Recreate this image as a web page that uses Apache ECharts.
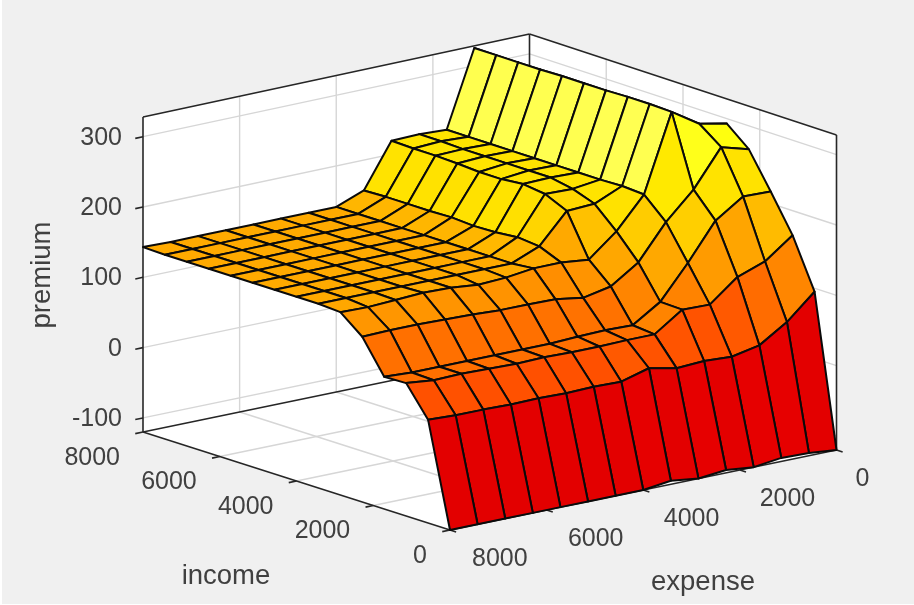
<!DOCTYPE html>
<html>
<head>
<meta charset="utf-8">
<title>premium surface</title>
<style>
  html, body { margin: 0; padding: 0; background: #fff; }
  /* reference is an upscaled screenshot, so a touch soft, with a thin white strip left and below */
  #chart { width: 912px; height: 604px; margin-left: 2px; filter: blur(0.6px); }
</style>
<script src="https://cdn.jsdelivr.net/npm/echarts@6/dist/echarts.min.js"></script>
</head>
<body>
<div id="chart"></div>
<script>
// grid of the surface: both axes run 0..8000 in 14 steps
const gridSteps = 14;
const axisMax = 8000;

// premium, one row per income step, expense step going up left to right
const income0 = [-120, -116, -115, -120, -116, -120, -115, -120, -120, -120, -120, -120, -120, -120, -120];
const income1 = [95, 60, 35, 27, 29, 27, 35, 24, 25, 24, 25, 24, 25, 25, 27];
const income2 = [165, 136, 122, 91, 92, 65, 65, 64, 64, 65, 64, 65, 66, 65, 69];
const income3 = [217, 218, 192, 140, 93, 68, 69, 68, 66, 66, 66, 66, 66, 66, 68];
const income4 = [267, 278, 226, 188, 139, 113, 105, 111, 112, 112, 114, 115, 116, 116, 115];
const income5 = [293, 301, 326, 217, 173, 141, 145, 145, 140, 138, 142, 143, 141, 139, 140];
const income6 = [280, 290, 327, 219, 202, 200, 158, 142, 142, 142, 142, 142, 142, 142, 142];
const income7 = [280, 285, 327, 218, 213, 214, 161, 142, 142, 142, 142, 142, 142, 142, 142];
const income8 = [280, 280, 326, 218, 219, 218, 158, 142, 142, 142, 142, 142, 142, 142, 142];
const income9 = [280, 280, 326, 218, 219, 215, 157, 142, 142, 142, 142, 142, 142, 142, 142];
const income10 = [280, 280, 326, 218, 219, 215, 159, 142, 142, 142, 142, 142, 142, 142, 142];
const income11 = [280, 280, 325, 218, 219, 217, 158, 142, 142, 142, 142, 142, 142, 142, 142];
const income12 = [280, 280, 325, 218, 219, 218, 158, 142, 142, 142, 142, 142, 142, 142, 142];
const income13 = [280, 280, 325, 218, 220, 218, 158, 142, 142, 142, 142, 142, 142, 142, 142];
const income14 = [280, 280, 325, 218, 220, 219, 157, 142, 142, 142, 142, 142, 142, 142, 143];
const premium = [income0, income1, income2, income3, income4, income5, income6, income7,
  income8, income9, income10, income11, income12, income13, income14];

const expenseTicks = [0, 2000, 4000, 6000, 8000];
const incomeTicks = [0, 2000, 4000, 6000, 8000];
const premiumTicks = [-100, 0, 100, 200, 300];
const premiumMin = -120;
const premiumMax = 328;

// view of the box, worked out from where its corners land.
// Last term is the slight perspective that lifts the far top corner a few pixels
function project(e, i, z) {
  const height = (z - premiumMin) / (premiumMax - premiumMin);
  return [
    836.5 - e * 386.5 / axisMax - i * 307 / axisMax,
    450 + e * 80 / axisMax - i * 98 / axisMax - height * 315
      - 3 * height * (i / axisMax) * (1 - e / axisMax)
  ];
}

// MATLAB hot colormap, caxis wider than the data
function hot(z) {
  const t = (z + 420) / 900;
  const r = Math.min(1, t / 0.375);
  const g = Math.max(0, Math.min(1, (t - 0.375) / 0.375));
  const b = Math.max(0, Math.min(1, (t - 0.75) / 0.25));
  return 'rgb(' + [r, g, b].map(v => Math.round(v * 255)).join(',') + ')';
}

const step = axisMax / gridSteps;

// faces back to front so the nearer ones paint over
const faces = [];
for (let j = gridSteps - 1; j >= 0; j--) {
  for (let k = 0; k < gridSteps; k++) {
    faces.push([k, j]);
  }
}

// back walls and floor
const walls = [
  [[0, axisMax, premiumMin], [axisMax, axisMax, premiumMin], [axisMax, axisMax, premiumMax], [0, axisMax, premiumMax]],
  [[0, 0, premiumMin], [0, axisMax, premiumMin], [0, axisMax, premiumMax], [0, 0, premiumMax]],
  [[0, 0, premiumMin], [axisMax, 0, premiumMin], [axisMax, axisMax, premiumMin], [0, axisMax, premiumMin]]
];

// segments are [e1, i1, z1, e2, i2, z2]
const gridLines = [];
expenseTicks.slice(1, -1).forEach(e => {
  gridLines.push([e, 0, premiumMin, e, axisMax, premiumMin]);
  gridLines.push([e, axisMax, premiumMin, e, axisMax, premiumMax]);
});
incomeTicks.slice(1, -1).forEach(i => {
  gridLines.push([0, i, premiumMin, axisMax, i, premiumMin]);
  gridLines.push([0, i, premiumMin, 0, i, premiumMax]);
});
premiumTicks.forEach(z => {
  gridLines.push([0, axisMax, z, axisMax, axisMax, z]);
  gridLines.push([0, 0, z, 0, axisMax, z]);
});

const boxLines = [
  [axisMax, axisMax, premiumMin, axisMax, axisMax, premiumMax],
  [axisMax, axisMax, premiumMax, 0, axisMax, premiumMax],
  [0, axisMax, premiumMax, 0, 0, premiumMax],
  [0, 0, premiumMax, 0, 0, premiumMin],
  [0, axisMax, premiumMax, 0, axisMax, premiumMin],
  [axisMax, axisMax, premiumMin, 0, axisMax, premiumMin],
  [0, axisMax, premiumMin, 0, 0, premiumMin],
  [axisMax, axisMax, premiumMin, axisMax, 0, premiumMin],
  [axisMax, 0, premiumMin, 0, 0, premiumMin]
];
const tickLen = 160;
expenseTicks.forEach(e => boxLines.push([e, 0, premiumMin, e, -tickLen, premiumMin]));
incomeTicks.forEach(i => boxLines.push([axisMax, i, premiumMin, axisMax + tickLen, i, premiumMin]));
premiumTicks.forEach(z => boxLines.push([axisMax, axisMax, z, axisMax + tickLen, axisMax, z]));

// text: [label, x, y, align, size, rotation]
const labels = [];
premiumTicks.forEach(z => {
  const p = project(axisMax, axisMax, z);
  labels.push([String(z), p[0] - 21, p[1] + 1, 'right', 25, 0]);
});
incomeTicks.forEach(i => {
  const p = project(axisMax, i, premiumMin);
  labels.push([String(i), p[0] - 23, p[1] + 26, 'right', 25, 0]);
});
expenseTicks.forEach(e => {
  const p = project(e, 0, premiumMin);
  // labels sit a little closer together than the ticks
  labels.push([String(e), p[0] + 19 + 3 * e / axisMax, p[1] + 29.5, 'left', 25, 0]);
});
labels.push(['income', 226, 576, 'center', 27.5, 0]);
labels.push(['expense', 703, 582, 'center', 27.5, 0]);
labels.push(['premium', 42, 275, 'center', 27.5, Math.PI / 2]);

function lineSeries(data, stroke, width) {
  return {
    type: 'custom',
    coordinateSystem: 'cartesian2d',
    silent: true,
    clip: false,
    data: data,
    renderItem: (params, api) => {
      const s = data[params.dataIndex];
      const a = api.coord(project(s[0], s[1], s[2]));
      const b = api.coord(project(s[3], s[4], s[5]));
      return {
        type: 'line',
        shape: { x1: a[0], y1: a[1], x2: b[0], y2: b[1] },
        style: { stroke: stroke, lineWidth: width, fill: null }
      };
    }
  };
}

const chart = echarts.init(document.getElementById('chart'));
chart.setOption({
  animation: false,
  backgroundColor: '#f0f0f0',
  grid: { left: 0, right: 0, top: 0, bottom: 0 },
  // hidden axes are the view plane the box gets projected on
  xAxis: { type: 'value', min: 2, max: 914, show: false },
  yAxis: { type: 'value', min: 0, max: 604, inverse: true, show: false },
  series: [
    {
      type: 'custom',
      coordinateSystem: 'cartesian2d',
      silent: true,
      clip: false,
      data: walls,
      renderItem: (params, api) => ({
        type: 'polygon',
        shape: { points: walls[params.dataIndex].map(c => api.coord(project(c[0], c[1], c[2]))) },
        style: { fill: '#ffffff' }
      })
    },
    lineSeries(gridLines, '#d6d6d6', 1.4),
    lineSeries(boxLines, '#262626', 1.6),
    {
      type: 'custom',
      coordinateSystem: 'cartesian2d',
      silent: true,
      clip: false,
      data: faces,
      renderItem: (params, api) => {
        const k = faces[params.dataIndex][0];
        const j = faces[params.dataIndex][1];
        const corners = [[k, j], [k + 1, j], [k + 1, j + 1], [k, j + 1]];
        return {
          type: 'polygon',
          shape: { points: corners.map(c => api.coord(project(c[0] * step, c[1] * step, premium[c[1]][c[0]]))) },
          // flat shading takes the colour of the first vertex of the face
          style: { fill: hot(premium[j][k]), stroke: '#0a0a0a', lineWidth: 2, lineJoin: 'round' }
        };
      }
    },
    {
      type: 'custom',
      coordinateSystem: 'cartesian2d',
      silent: true,
      clip: false,
      data: labels,
      renderItem: (params, api) => {
        const l = labels[params.dataIndex];
        const p = api.coord([l[1], l[2]]);
        return {
          type: 'text',
          x: p[0],
          y: p[1],
          rotation: l[5],
          style: {
            text: l[0],
            x: 0,
            y: 0,
            fill: '#404040',
            font: l[4] + 'px "Liberation Sans", Arial, sans-serif',
            align: l[3],
            verticalAlign: 'middle'
          }
        };
      }
    }
  ]
});
window.addEventListener('resize', () => chart.resize());
</script>
</body>
</html>
